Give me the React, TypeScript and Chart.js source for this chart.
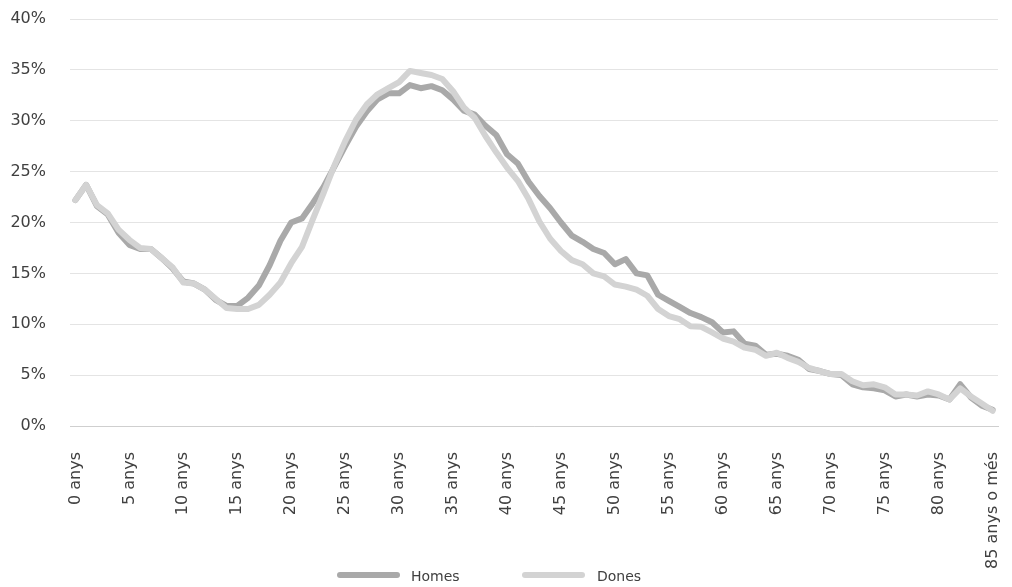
import React, { useEffect, useRef } from "react";
import { Chart, registerables } from "chart.js";

Chart.register(...registerables);

const categories: string[] = Array.from({ length: 86 }, (_, i) =>
  i === 85 ? "85 anys o més" : `${i} anys`
);

const homes: number[] = [
  22.2, 23.7, 21.6, 20.8, 19.0, 17.8, 17.4, 17.4, 16.5, 15.5,
  14.2, 14.0, 13.4, 12.4, 11.8, 11.8, 12.6, 13.8, 15.8, 18.2,
  20.0, 20.4, 21.9, 23.5, 25.5, 27.5, 29.4, 30.9, 32.1, 32.7,
  32.7, 33.5, 33.2, 33.4, 33.0, 32.1, 31.0, 30.6, 29.5, 28.6,
  26.7, 25.8, 24.0, 22.6, 21.4, 20.0, 18.7, 18.1, 17.4, 17.0,
  15.9, 16.4, 15.0, 14.8, 12.9, 12.3, 11.7, 11.1, 10.7, 10.2,
  9.2, 9.3, 8.1, 7.9, 7.0, 7.1, 6.9, 6.5, 5.6, 5.4,
  5.1, 5.0, 4.1, 3.8, 3.7, 3.5, 2.9, 3.1, 2.9, 3.1,
  3.0, 2.6, 4.1, 2.8, 2.0, 1.6,
];

const dones: number[] = [
  22.2, 23.7, 21.7, 20.9, 19.3, 18.3, 17.5, 17.4, 16.5, 15.6,
  14.1, 14.0, 13.4, 12.5, 11.6, 11.5, 11.5, 11.9, 12.9, 14.1,
  16.0, 17.6, 20.3, 22.9, 25.6, 28.0, 30.1, 31.6, 32.6, 33.2,
  33.8, 34.9, 34.7, 34.5, 34.1, 32.9, 31.3, 30.3, 28.5, 26.9,
  25.4, 24.1, 22.3, 20.1, 18.4, 17.2, 16.3, 15.9, 15.0, 14.7,
  13.9, 13.7, 13.4, 12.8, 11.5, 10.8, 10.5, 9.8, 9.75, 9.2,
  8.6, 8.3, 7.7, 7.5, 6.9, 7.2, 6.7, 6.3, 5.7, 5.4,
  5.1, 5.1, 4.4, 4.0, 4.1, 3.8, 3.1, 3.1, 3.0, 3.4,
  3.1, 2.6, 3.7, 2.9, 2.2, 1.5,
];

const seriesNames = ["Homes", "Dones"];
const seriesColors = ["#a9a9a9", "#d3d3d3"];

const FONT = "'DejaVu Sans', 'Liberation Sans', Arial, sans-serif";
const TEXT = "#404040";

export default function App() {
  const ref = useRef<HTMLCanvasElement | null>(null);

  useEffect(() => {
    if (!ref.current) return;
    const chart = new Chart(ref.current, {
      type: "line",
      data: {
        labels: categories,
        datasets: [
          {
            label: seriesNames[0],
            data: homes,
            borderColor: seriesColors[0],
            backgroundColor: seriesColors[0],
            borderWidth: 6,
            pointRadius: 0,
            tension: 0,
            borderJoinStyle: "round",
            borderCapStyle: "round",
            order: 1,
          },
          {
            label: seriesNames[1],
            data: dones,
            borderColor: seriesColors[1],
            backgroundColor: seriesColors[1],
            borderWidth: 6,
            pointRadius: 0,
            tension: 0,
            borderJoinStyle: "round",
            borderCapStyle: "round",
            order: 0,
          },
        ],
      },
      options: {
        animation: false,
        responsive: false,
        maintainAspectRatio: false,
        layout: { padding: { left: 0, right: 14, top: 19, bottom: 0 } },
        plugins: {
          legend: { display: false },
          tooltip: { enabled: false },
        },
        scales: {
          x: {
            offset: true,
            grid: { display: false, drawTicks: false },
            border: { display: true, color: "#cfcfcf", width: 1 },
            ticks: {
              autoSkip: false,
              minRotation: 90,
              maxRotation: 90,
              padding: 26,
              color: TEXT,
              font: { family: FONT, size: 16 },
              callback: (_v: any, i: number) =>
                i % 5 === 0 ? categories[i] : "",
            },
            afterFit: (s: any) => {
              s.height = 161;
              s.paddingLeft = 0;
              s.paddingRight = 0;
            },
          },
          y: {
            min: 0,
            max: 40,
            grid: { color: "#e4e4e4", drawTicks: false, lineWidth: 1 },
            border: { display: false },
            ticks: {
              stepSize: 5,
              padding: 24,
              color: TEXT,
              font: { family: FONT, size: 16 },
              callback: (v: any) => `${v}%`,
            },
            afterFit: (s: any) => {
              s.width = 70;
              s.paddingTop = 0;
              s.paddingBottom = 0;
            },
          },
        },
      },
    });
    return () => chart.destroy();
  }, []);

  const legendItem = (i: number, barLeft: number, textLeft: number) => (
    <React.Fragment key={i}>
      <div
        style={{
          position: "absolute",
          left: barLeft,
          top: 572,
          width: 63,
          height: 6,
          borderRadius: 3,
          background: seriesColors[i],
        }}
      />
      <div
        style={{
          position: "absolute",
          left: textLeft,
          top: 566,
          fontFamily: FONT,
          fontSize: 14,
          lineHeight: "20px",
          color: TEXT,
        }}
      >
        {seriesNames[i]}
      </div>
    </React.Fragment>
  );

  return (
    <div
      style={{
        position: "fixed",
        left: 0,
        top: 0,
        width: 1012,
        height: 587,
        background: "#fff",
        overflow: "hidden",
      }}
    >
      <canvas ref={ref} width={1012} height={587} style={{ display: "block" }} />
      {legendItem(0, 337, 411)}
      {legendItem(1, 522, 597)}
    </div>
  );
}
